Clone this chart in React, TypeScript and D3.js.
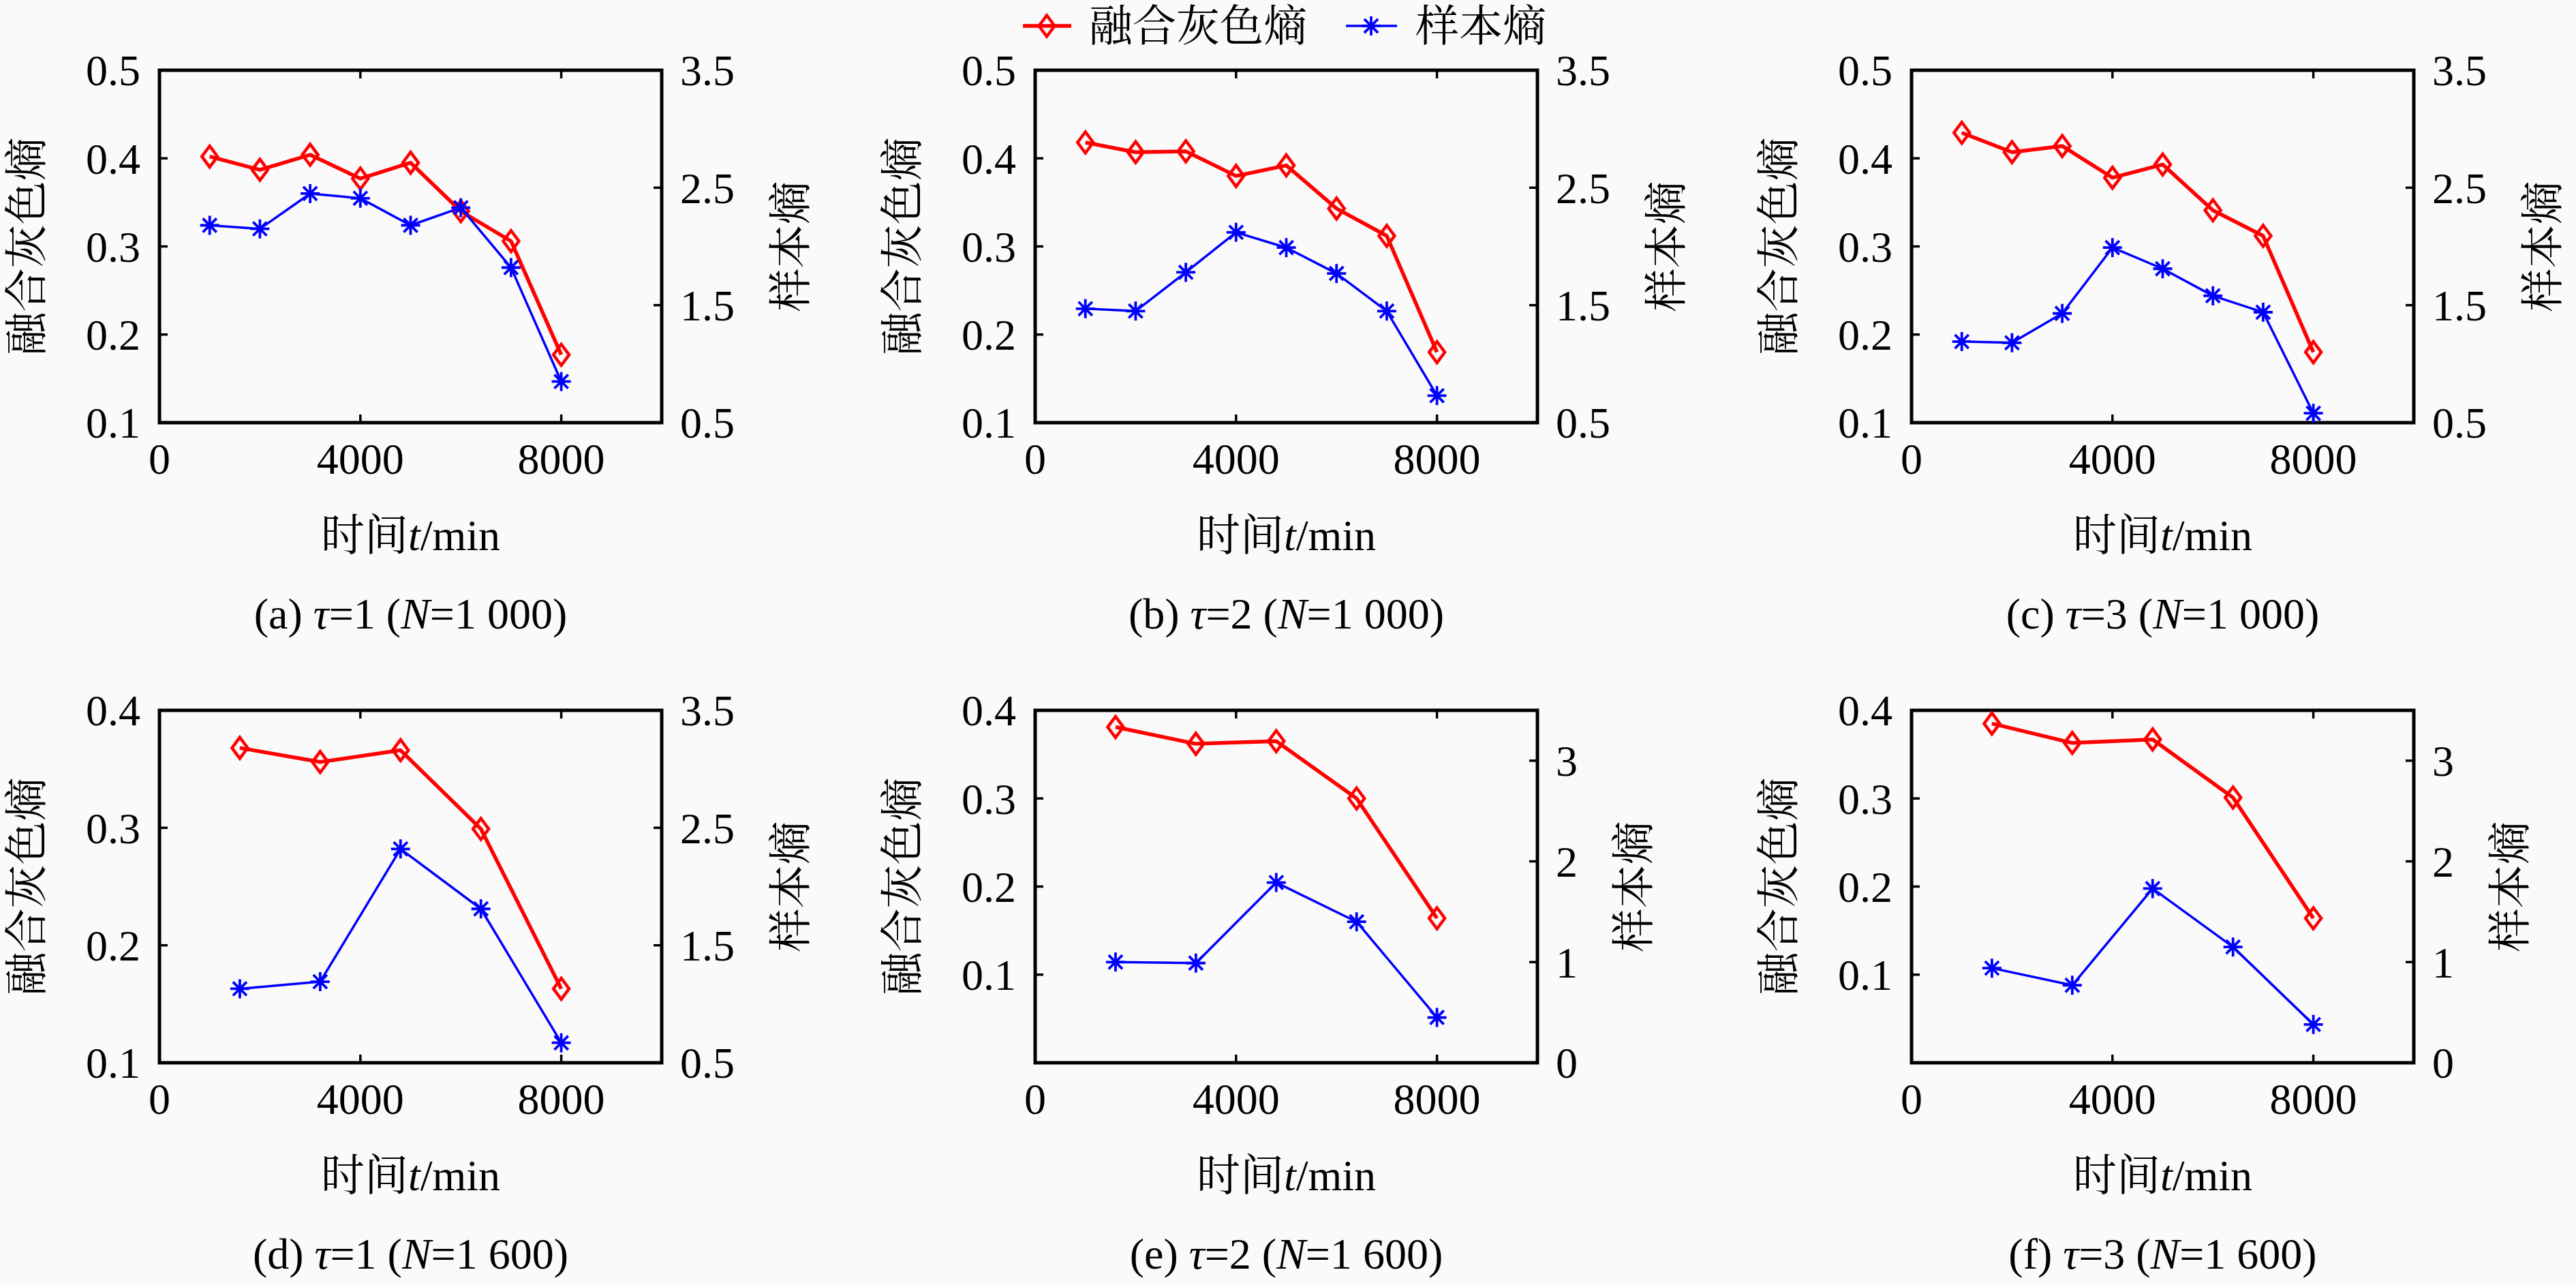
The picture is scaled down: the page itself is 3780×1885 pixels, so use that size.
import * as d3 from "d3";

// x positions (time, min)
const timeTop = [1000, 2000, 3000, 4000, 5000, 6000, 7000, 8000];
const timeBottom = [1600, 3200, 4800, 6400, 8000];
const xTicks = [0, 4000, 8000];

// 融合灰色熵 (left axis)
const grayA = [0.402, 0.387, 0.404, 0.377, 0.395, 0.340, 0.306, 0.177];
const grayB = [0.418, 0.407, 0.408, 0.380, 0.392, 0.343, 0.312, 0.180];
const grayC = [0.429, 0.407, 0.414, 0.378, 0.393, 0.341, 0.312, 0.180];
const grayD = [0.368, 0.356, 0.366, 0.299, 0.163];
const grayE = [0.381, 0.362, 0.365, 0.300, 0.164];
const grayF = [0.385, 0.363, 0.367, 0.301, 0.164];

// 样本熵 (right axis)
const sampleA = [2.18, 2.15, 2.45, 2.41, 2.18, 2.33, 1.82, 0.85];
const sampleB = [1.47, 1.45, 1.78, 2.12, 1.99, 1.77, 1.45, 0.73];
const sampleC = [1.19, 1.18, 1.43, 1.99, 1.81, 1.58, 1.44, 0.58];
const sampleD = [1.13, 1.19, 2.32, 1.81, 0.67];
const sampleE = [1.00, 0.99, 1.79, 1.40, 0.45];
const sampleF = [0.94, 0.77, 1.73, 1.15, 0.38];

// axis domains and tick labels
const leftTop = { domain: [0.1, 0.5], ticks: [0.1, 0.2, 0.3, 0.4, 0.5] };
const leftD = { domain: [0.1, 0.4], ticks: [0.1, 0.2, 0.3, 0.4] };
const leftEF = { domain: [0, 0.4], ticks: [0.1, 0.2, 0.3, 0.4] };
const rightHalf = { domain: [0.5, 3.5], ticks: [0.5, 1.5, 2.5, 3.5] };
const rightZero = { domain: [0, 3.5], ticks: [0, 1, 2, 3] };

const captions = ["(a)", "(b)", "(c)", "(d)", "(e)", "(f)"];
const taus = ["1", "2", "3", "1", "2", "3"];
const sizes = ["1 000", "1 000", "1 000", "1 600", "1 600", "1 600"];

const panels = [
  { t: timeTop, gray: grayA, sample: sampleA, left: leftTop, right: rightHalf },
  { t: timeTop, gray: grayB, sample: sampleB, left: leftTop, right: rightHalf },
  { t: timeTop, gray: grayC, sample: sampleC, left: leftTop, right: rightHalf },
  { t: timeBottom, gray: grayD, sample: sampleD, left: leftD, right: rightHalf },
  { t: timeBottom, gray: grayE, sample: sampleE, left: leftEF, right: rightZero },
  { t: timeBottom, gray: grayF, sample: sampleF, left: leftEF, right: rightZero },
];

const W = 3780, H = 1885;
const COLS = [234, 1519, 2805];
const ROWS = [103, 1042];
const PW = 737, PH = 517;
const FS = 64;
const FONT = "'Liberation Serif', 'Times New Roman', 'Noto Serif CJK SC', 'Noto Sans CJK SC', serif";
const RED = "#ff0000", BLUE = "#0000ff";
const TICK = 12;

const fmt = (v: number) => (Number.isInteger(v) ? String(v) : v.toFixed(1));
const textW = (s: string) => [...s].reduce((a, c) => a + (c === "." ? 0.25 : 0.5), 0) * FS;

function Diamond({ x, y }: { x: number; y: number }) {
  const a = 11.5, b = 15.5;
  return (
    <path d={`M${x},${y - b}L${x + a},${y}L${x},${y + b}L${x - a},${y}Z`}
      fill="none" stroke={RED} strokeWidth={4.5} strokeLinejoin="miter" />
  );
}

function Star({ x, y }: { x: number; y: number }) {
  const r = 14, d = r * 0.72;
  return (
    <path d={`M${x},${y - r}V${y + r}M${x - r},${y}H${x + r}M${x - d},${y - d}L${x + d},${y + d}M${x - d},${y + d}L${x + d},${y - d}`}
      stroke={BLUE} strokeWidth={3.8} fill="none" />
  );
}

function Panel({ i }: { i: number }) {
  const p = panels[i];
  const L = COLS[i % 3], T = ROWS[Math.floor(i / 3)];
  const R = L + PW, B = T + PH;
  const x = d3.scaleLinear().domain([0, 10000]).range([L, R]);
  const yl = d3.scaleLinear().domain(p.left.domain).range([B, T]);
  const yr = d3.scaleLinear().domain(p.right.domain).range([B, T]);
  const lineL = d3.line<number>().x((_, k) => x(p.t[k])).y(v => yl(v));
  const lineR = d3.line<number>().x((_, k) => x(p.t[k])).y(v => yr(v));
  const inner = (v: number, dom: number[]) => v > dom[0] + 1e-9 && v < dom[1] - 1e-9;
  const rMax = d3.max(p.right.ticks, v => textW(fmt(v))) ?? 0;
  const rLabelX = R + 27 + rMax + 82;
  const cx = (L + R) / 2;

  return (
    <g>
      {/* ticks */}
      {xTicks.filter(v => inner(v, [0, 10000])).map(v => (
        <g key={"x" + v}>
          <line x1={x(v)} x2={x(v)} y1={B} y2={B - TICK} stroke="#000" strokeWidth={3.5} />
          <line x1={x(v)} x2={x(v)} y1={T} y2={T + TICK} stroke="#000" strokeWidth={3.5} />
        </g>
      ))}
      {p.left.ticks.filter(v => inner(v, p.left.domain)).map(v => (
        <line key={"l" + v} x1={L} x2={L + TICK} y1={yl(v)} y2={yl(v)} stroke="#000" strokeWidth={3.5} />
      ))}
      {p.right.ticks.filter(v => inner(v, p.right.domain)).map(v => (
        <line key={"r" + v} x1={R} x2={R - TICK} y1={yr(v)} y2={yr(v)} stroke="#000" strokeWidth={3.5} />
      ))}
      <rect x={L} y={T} width={PW} height={PH} fill="none" stroke="#000" strokeWidth={5} />

      {/* tick labels */}
      {xTicks.map(v => (
        <text key={"xt" + v} x={x(v)} y={B + 53} dy="0.35em" textAnchor="middle">{v}</text>
      ))}
      {p.left.ticks.map(v => (
        <text key={"lt" + v} x={L - 28} y={yl(v)} dy="0.35em" textAnchor="end">{fmt(v)}</text>
      ))}
      {p.right.ticks.map(v => (
        <text key={"rt" + v} x={R + 27} y={yr(v)} dy="0.35em" textAnchor="start">{fmt(v)}</text>
      ))}

      {/* axis titles */}
      <text transform={`translate(${L - 195},${(T + B) / 2}) rotate(-90)`} dy="0.35em" textAnchor="middle">融合灰色熵</text>
      <text transform={`translate(${rLabelX},${(T + B) / 2}) rotate(-90)`} dy="0.35em" textAnchor="middle">样本熵</text>
      <text x={cx} y={B + 165} dy="0.35em" textAnchor="middle">
        时间<tspan fontStyle="italic">t</tspan>/min
      </text>
      <text x={cx} y={B + 280} dy="0.35em" textAnchor="middle">
        {captions[i]} <tspan fontStyle="italic">τ</tspan>={taus[i]} (<tspan fontStyle="italic">N</tspan>={sizes[i]})
      </text>

      {/* series */}
      <path d={lineL(p.gray) ?? ""} fill="none" stroke={RED} strokeWidth={5.5} strokeLinejoin="round" />
      {p.gray.map((v, k) => <Diamond key={"d" + k} x={x(p.t[k])} y={yl(v)} />)}
      <path d={lineR(p.sample) ?? ""} fill="none" stroke={BLUE} strokeWidth={3.5} strokeLinejoin="round" />
      {p.sample.map((v, k) => <Star key={"s" + k} x={x(p.t[k])} y={yr(v)} />)}
    </g>
  );
}

export default function App() {
  const ly = 38;
  return (
    <svg width={W} height={H} viewBox={`0 0 ${W} ${H}`}
      style={{ position: "absolute", left: 0, top: 0, background: "#fafafa" }}
      fontFamily={FONT} fontSize={FS} fill="#000">
      {/* legend */}
      <line x1={1501} x2={1572} y1={ly} y2={ly} stroke={RED} strokeWidth={5.5} />
      <Diamond x={1536} y={ly} />
      <text x={1598} y={ly} dy="0.35em">融合灰色熵</text>
      <line x1={1975} x2={2050} y1={ly} y2={ly} stroke={BLUE} strokeWidth={3.5} />
      <Star x={2012} y={ly} />
      <text x={2077} y={ly} dy="0.35em">样本熵</text>
      {panels.map((_, i) => <Panel key={i} i={i} />)}
    </svg>
  );
}
